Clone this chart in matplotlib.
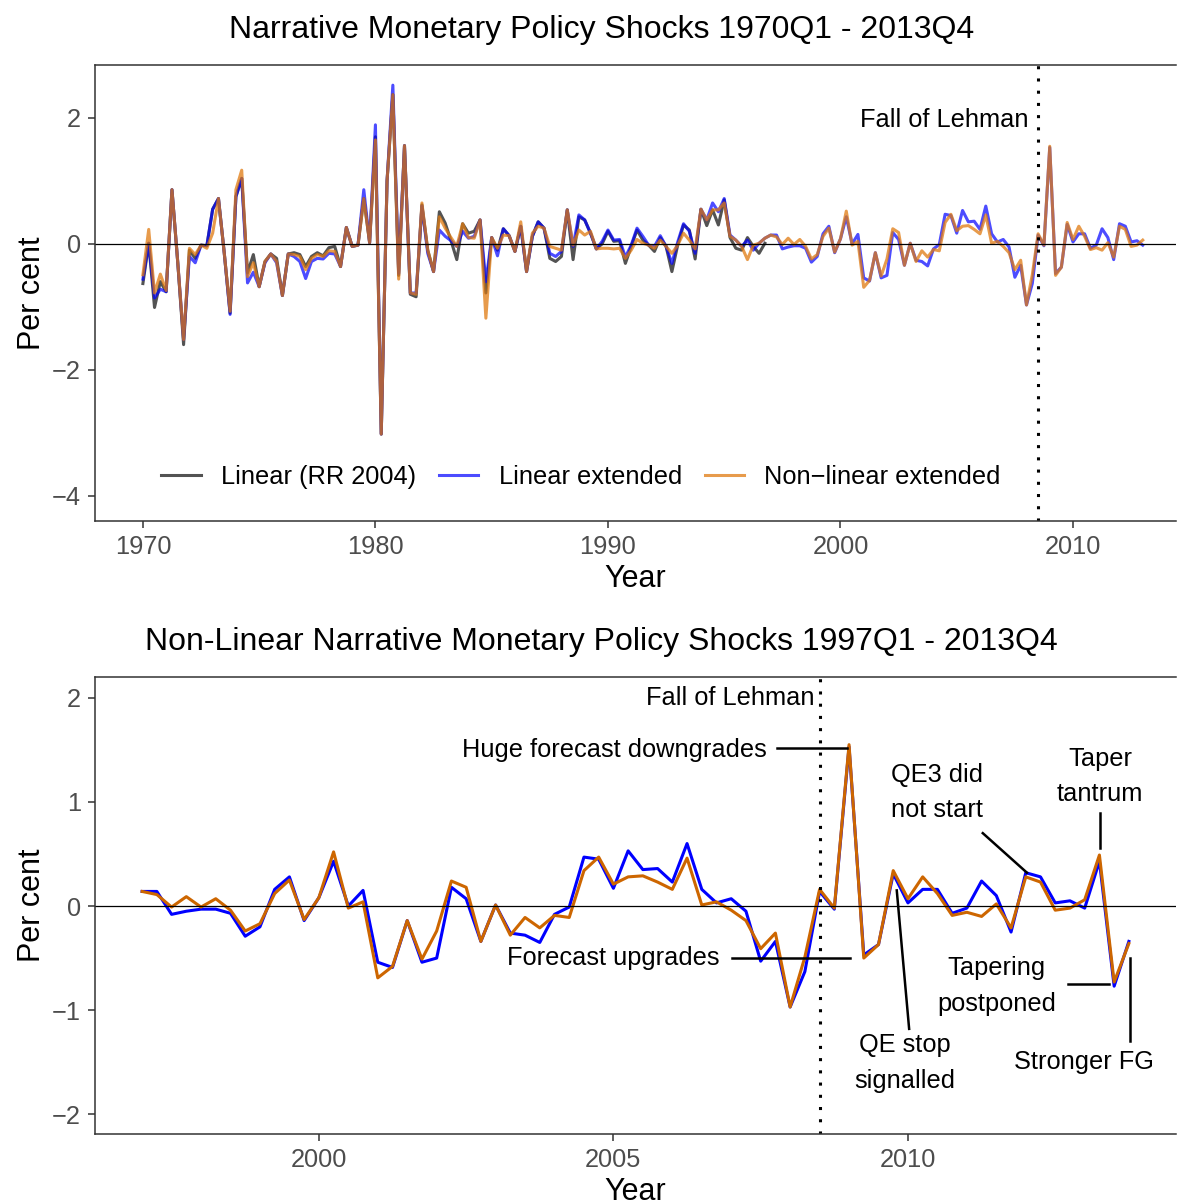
import numpy as np
import matplotlib
matplotlib.use("Agg")
import matplotlib.pyplot as plt

plt.rcParams['font.family'] = ['Liberation Sans', 'DejaVu Sans']

# narrative shocks, quarterly, 1970Q1 - 1996Q4
rr2004 = [-0.63, 0.01, -1.01, -0.60, -0.76, 0.86, -0.30, -1.60, -0.10, -0.23,
          -0.02, -0.03, 0.55, 0.72, -0.15, -1.10, 0.75, 1.04, -0.46, -0.17,
          -0.68, -0.28, -0.16, -0.23, -0.82, -0.16, -0.14, -0.17, -0.36, -0.20,
          -0.14, -0.19, -0.06, -0.04, -0.36, 0.26, -0.04, -0.02, 0.72, 0.02,
          1.70, -3.02, 1.00, 2.37, -0.50, 1.56, -0.80, -0.84, 0.62, -0.10,
          -0.44, 0.51, 0.33, 0.05, -0.25, 0.32, 0.17, 0.20, 0.38, -0.78,
          0.10, -0.10, 0.24, 0.13, -0.12, 0.28, -0.44, 0.12, 0.35, 0.25,
          -0.23, -0.28, -0.20, 0.54, -0.25, 0.43, 0.38, 0.17, -0.08, 0.00,
          0.20, 0.04, 0.05, -0.31, -0.04, 0.22, 0.06, -0.02, -0.12, 0.10,
          -0.04, -0.44, -0.02, 0.30, 0.22, -0.24, 0.55, 0.29, 0.54, 0.30,
          0.70, 0.10, -0.07, -0.10, 0.10, -0.04, -0.15, 0.01]

lin_early = [-0.56, 0.01, -0.86, -0.72, -0.76, 0.86, -0.30, -1.52, -0.20, -0.30,
             -0.02, -0.03, 0.55, 0.72, -0.15, -1.12, 0.75, 1.04, -0.62, -0.45,
             -0.68, -0.30, -0.16, -0.30, -0.82, -0.16, -0.20, -0.28, -0.55, -0.28,
             -0.23, -0.24, -0.15, -0.16, -0.36, 0.26, -0.04, -0.02, 0.86, 0.02,
             1.89, -3.02, 1.00, 2.52, -0.47, 1.56, -0.78, -0.78, 0.60, -0.15,
             -0.44, 0.22, 0.12, 0.05, -0.04, 0.20, 0.09, 0.12, 0.38, -0.60,
             0.10, -0.19, 0.24, 0.13, -0.12, 0.28, -0.44, 0.12, 0.35, 0.25,
             -0.15, -0.20, -0.12, 0.54, -0.04, 0.46, 0.38, 0.17, -0.08, 0.04,
             0.22, 0.06, 0.07, -0.21, -0.02, 0.25, 0.12, -0.02, -0.04, 0.13,
             -0.04, -0.31, 0.03, 0.32, 0.20, -0.15, 0.55, 0.38, 0.65, 0.51,
             0.72, 0.14, 0.06, -0.04, 0.06, -0.10, 0.01, 0.09]

nl_early = [-0.49, 0.23, -0.78, -0.48, -0.74, 0.86, -0.30, -1.52, -0.07, -0.17,
            -0.02, -0.07, 0.17, 0.72, -0.15, -1.07, 0.86, 1.17, -0.52, -0.30,
            -0.68, -0.28, -0.16, -0.28, -0.82, -0.16, -0.17, -0.20, -0.41, -0.23,
            -0.17, -0.20, -0.11, -0.12, -0.36, 0.26, -0.04, -0.02, 0.72, 0.02,
            1.65, -3.02, 1.00, 2.37, -0.56, 1.56, -0.78, -0.80, 0.65, -0.10,
            -0.44, 0.43, 0.25, 0.10, -0.04, 0.32, 0.10, 0.09, 0.38, -1.18,
            0.10, -0.07, 0.14, 0.13, -0.12, 0.35, -0.44, 0.17, 0.28, 0.25,
            -0.04, -0.07, -0.10, 0.54, -0.02, 0.22, 0.14, 0.20, -0.08, -0.07,
            -0.07, -0.08, -0.07, -0.23, -0.10, 0.07, 0.01, -0.02, -0.07, 0.06,
            -0.04, -0.15, -0.02, 0.17, 0.06, -0.08, 0.55, 0.38, 0.54, 0.54,
            0.65, 0.12, 0.06, -0.04, -0.25, -0.02, 0.01, 0.09]

# 1997Q1 - 2013Q4
lin_late = [0.14, 0.14, -0.08, -0.05, -0.03, -0.03, -0.07, -0.29,
            -0.20, 0.16, 0.28, -0.14, 0.08, 0.43, 0.00, 0.15,
            -0.54, -0.59, -0.14, -0.54, -0.50, 0.18, 0.07, -0.34,
            0.01, -0.26, -0.28, -0.35, -0.08, -0.01, 0.47, 0.45,
            0.17, 0.53, 0.35, 0.36, 0.23, 0.60, 0.16, 0.03,
            0.07, -0.05, -0.53, -0.34, -0.97, -0.63, 0.14, -0.03,
            1.53, -0.47, -0.37, 0.31, 0.03, 0.16, 0.16, -0.07,
            -0.02, 0.24, 0.10, -0.25, 0.32, 0.28, 0.03, 0.05,
            -0.02, 0.43, -0.77, -0.34]

nl_late = [0.14, 0.11, -0.01, 0.09, -0.01, 0.07, -0.04, -0.24,
           -0.17, 0.12, 0.25, -0.13, 0.08, 0.52, -0.02, 0.04,
           -0.69, -0.58, -0.14, -0.51, -0.24, 0.24, 0.18, -0.34,
           0.01, -0.28, -0.11, -0.21, -0.09, -0.11, 0.34, 0.47,
           0.21, 0.28, 0.29, 0.23, 0.16, 0.46, 0.01, 0.04,
           -0.04, -0.14, -0.41, -0.26, -0.97, -0.49, 0.16, -0.02,
           1.55, -0.50, -0.37, 0.34, 0.07, 0.28, 0.12, -0.09,
           -0.06, -0.10, 0.02, -0.21, 0.28, 0.23, -0.04, -0.02,
           0.06, 0.49, -0.73, -0.36]

# the long-sample series in the top panel stop at 2013Q1
n_top = 173
lin_ext = (lin_early + lin_late)[:n_top]
nl_ext = (nl_early + nl_late)[:n_top]
t_full = 1970 + np.arange(n_top) / 4
t_rr = 1970 + np.arange(len(rr2004)) / 4
t_late = 1997 + np.arange(len(lin_late)) / 4
lehman = 2008.5

tick_col = '#4d4d4d'
spine_col = '#333333'


def style(ax):
    ax.spines['right'].set_visible(False)
    for s in ['left', 'bottom', 'top']:
        ax.spines[s].set_color(spine_col)
        ax.spines[s].set_linewidth(1.1)
    ax.tick_params(length=5, width=1.1, color=spine_col, labelcolor=tick_col,
                   labelsize=18.3, pad=5)
    ax.set_ylabel('Per cent', fontsize=22, labelpad=4)
    ax.set_xlabel('Year', fontsize=22, labelpad=4)


fig = plt.figure(figsize=(11.77, 12.02), dpi=100)

# top panel
ax1 = fig.add_axes([95 / 1177, 1 - 521 / 1202, 1081 / 1177, 456 / 1202])
ax1.plot(t_rr, rr2004, color='#1a1a1a', alpha=0.75, lw=2.2, label='Linear (RR 2004)')
ax1.plot(t_full, lin_ext, color='#0000ff', alpha=0.7, lw=2.2, label='Linear extended')
ax1.plot(t_full, nl_ext, color='#e07a10', alpha=0.75, lw=2.2, label='Non\u2212linear extended')
ax1.axhline(0, color='black', lw=0.9)
ax1.axvline(lehman, color='black', lw=2.2, ls=(0, (1, 3)))
ax1.text(2008.1, 1.97, 'Fall of Lehman', ha='right', va='center', fontsize=18.3)
ax1.set_xlim(1967.94, 2014.43)
ax1.set_ylim(-4.4, 2.84)
ax1.set_xticks([1970, 1980, 1990, 2000, 2010])
ax1.set_yticks([2, 0, -2, -4])
ax1.set_yticklabels(['2', '0', '\u22122', '\u22124'])
style(ax1)
ax1.legend(loc='center left', bbox_to_anchor=(0.04, 0.096), ncol=3,
           frameon=False, fontsize=18.3, handlelength=1.55, columnspacing=0.9,
           handletextpad=0.8)
fig.text(602 / 1177, 1 - 30 / 1202, 'Narrative Monetary Policy Shocks 1970Q1 - 2013Q4',
         ha='center', va='center', fontsize=23)

# bottom panel
ax2 = fig.add_axes([95 / 1177, 1 - 1134 / 1202, 1081 / 1177, 457 / 1202])
ax2.plot(t_late, lin_late, color='#0000ff', lw=2.2)
ax2.plot(t_late, nl_late, color='#cd6600', lw=2.2)
ax2.axhline(0, color='black', lw=0.9)
ax2.axvline(lehman, color='black', lw=2.2, ls=(0, (1, 3)))
ax2.set_xlim(1996.2, 2014.55)
ax2.set_ylim(-2.19, 2.2)
ax2.set_xticks([2000, 2005, 2010])
ax2.set_yticks([2, 1, 0, -1, -2])
ax2.set_yticklabels(['2', '1', '0', '\u22121', '\u22122'])
style(ax2)
fig.text(601 / 1177, 1 - 642 / 1202,
         'Non-Linear Narrative Monetary Policy Shocks 1997Q1 - 2013Q4',
         ha='center', va='center', fontsize=23)

fs = 18.3
ls2 = 1.62
ax2.text(2008.42, 2.0, 'Fall of Lehman', ha='right', va='center', fontsize=fs)
ax2.text(2007.6, 1.5, 'Huge forecast downgrades', ha='right', va='center', fontsize=fs)
ax2.plot([2007.78, 2008.96], [1.52, 1.52], color='black', lw=1.8)
ax2.text(2006.8, -0.5, 'Forecast upgrades', ha='right', va='center', fontsize=fs)
ax2.plot([2007.01, 2009.02], [-0.5, -0.5], color='black', lw=1.8)
ax2.text(2010.5, 1.09, 'QE3 did\nnot start', ha='center', va='center', fontsize=fs,
         linespacing=ls2)
ax2.plot([2011.27, 2012.02], [0.70, 0.32], color='black', lw=1.8)
ax2.text(2013.26, 1.245, 'Taper\ntantrum', ha='center', va='center', fontsize=fs,
         linespacing=ls2)
ax2.plot([2013.26, 2013.26], [0.89, 0.56], color='black', lw=1.8)
ax2.text(2011.51, -0.765, 'Tapering\npostponed', ha='center', va='center', fontsize=fs,
         linespacing=ls2)
ax2.plot([2012.72, 2013.41], [-0.75, -0.75], color='black', lw=1.8)
ax2.text(2009.95, -1.51, 'QE stop\nsignalled', ha='center', va='center', fontsize=fs,
         linespacing=ls2)
ax2.plot([2009.81, 2010.02], [0.15, -1.18], color='black', lw=1.8)
ax2.text(2012.99, -1.5, 'Stronger FG', ha='center', va='center', fontsize=fs)
ax2.plot([2013.77, 2013.77], [-0.5, -1.3], color='black', lw=1.8)

fig.savefig('out.png', dpi=100)
